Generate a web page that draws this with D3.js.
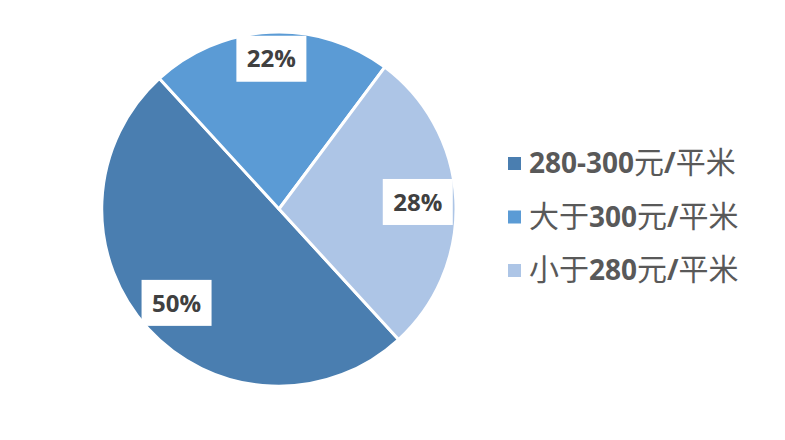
<!DOCTYPE html>
<html lang="zh">
<head>
<meta charset="utf-8">
<title>价格分布</title>
<script src="https://cdnjs.cloudflare.com/ajax/libs/d3/7.8.5/d3.min.js"></script>
<style>
body { margin: 0; background: #fff; }
.label { font-family: "Open Sans", "Noto Sans CJK SC", sans-serif; font-weight: bold; font-size: 24px; fill: #404040; }
.legend text { font-family: "Open Sans", "Noto Sans CJK SC", sans-serif; font-size: 28px; fill: #595959; }
</style>
</head>
<body>
<div id="chart"></div>
<script>

const w = 785;
const h = 440;

// slice data, in the order Excel draws them
const categories = ["280-300元/平米", "大于300元/平米", "小于280元/平米"];
const shares = [50, 22, 28];
const colors = ["#4a7eb0", "#5b9bd5", "#adc5e6"];

const cx = 279, cy = 209, radius = 177;
// first slice begins at about 137.5 degrees clockwise from 12 o'clock
const startAngle = 137.5 * Math.PI / 180;
// label distance as a fraction of the radius (Excel best fit)
const labelR = [0.785, 0.85, 0.785];

const svg = d3.select("#chart")
   .append("svg")
   .attr("width", w)
   .attr("height", h);

const pie = d3.pie()
   .sort(null)
   .value(d => d)
   .startAngle(startAngle)
   .endAngle(startAngle + 2 * Math.PI);

const arcs = pie(shares);

const arc = d3.arc()
   .innerRadius(0)
   .outerRadius(radius);

const g = svg.append("g")
   .attr("transform", "translate(" + cx + "," + cy + ")");

g.selectAll(".slice")
   .data(arcs)
   .enter()
   .append("path")
   .attr("class", "slice")
   .attr("d", arc)
   .attr("fill", (d, i) => colors[i])
   .attr("stroke", "#fff")
   .attr("stroke-width", 3)
   .attr("stroke-linejoin", "round");

// percentage labels on white boxes
const labels = g.selectAll(".lbl")
   .data(arcs)
   .enter()
   .append("g")
   .attr("class", "lbl")
   .attr("transform", (d, i) => {
      const a = (d.startAngle + d.endAngle) / 2;
      const r = radius * labelR[i];
      return "translate(" + (Math.sin(a) * r) + "," + (-Math.cos(a) * r) + ")";
   });

labels.append("rect")
   .attr("x", -35)
   .attr("y", -23)
   .attr("width", 70)
   .attr("height", 46)
   .attr("fill", "#fff");

labels.append("text")
   .attr("class", "label")
   .attr("text-anchor", "middle")
   .attr("dy", "0.36em")
   .text(d => d.data + "%");

// legend
const legendY = d3.scalePoint()
   .domain(categories)
   .range([163, 270]);

const legend = svg.append("g")
   .attr("class", "legend")
   .selectAll("g")
   .data(categories)
   .enter()
   .append("g")
   .attr("transform", d => "translate(508," + legendY(d) + ")");

legend.append("rect")
   .attr("x", 0)
   .attr("y", -6)
   .attr("width", 13)
   .attr("height", 13)
   .attr("fill", (d, i) => colors[i]);

// digits bold, Chinese regular and a touch larger
const legendText = legend.append("text")
   .attr("x", 21)
   .attr("dy", "0.36em");

legendText.each(function(d) {
   const t = d3.select(this);
   const parts = d.match(/[0-9\-\/]+|[^0-9\-\/]+/g);
   parts.forEach(p => {
      const digits = /[0-9\-\/]/.test(p);
      t.append("tspan")
         .attr("font-weight", digits ? "bold" : "normal")
         .style("font-size", digits ? "28px" : "30px")
         .text(p);
   });
});

</script>
</body>
</html>
